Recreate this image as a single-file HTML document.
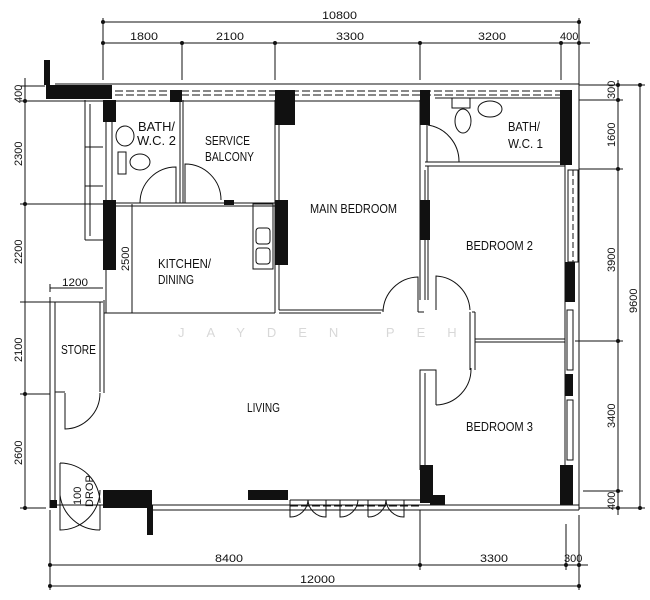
<!DOCTYPE html>
<html><head><meta charset="utf-8"><style>
html,body{margin:0;padding:0;background:#fff}
svg{display:block}
text{font-family:"Liberation Sans",sans-serif;fill:#111}
</style></head><body>
<svg width="650" height="600" viewBox="0 0 650 600" xmlns="http://www.w3.org/2000/svg">
<g stroke="#111" stroke-width="1" fill="none">
<line x1="103" y1="22" x2="579" y2="22"/>
<line x1="103" y1="43" x2="590" y2="43"/>
<line x1="103" y1="18" x2="103" y2="80"/>
<line x1="182" y1="43" x2="182" y2="80"/>
<line x1="275" y1="43" x2="275" y2="80"/>
<line x1="420" y1="43" x2="420" y2="80"/>
<line x1="561" y1="43" x2="561" y2="80"/>
<line x1="579" y1="18" x2="579" y2="84"/>
<line x1="25" y1="78" x2="25" y2="510"/>
<line x1="20" y1="86" x2="45" y2="86"/>
<line x1="20" y1="101" x2="100" y2="101"/>
<line x1="20" y1="204" x2="103" y2="204"/>
<line x1="20" y1="302" x2="103" y2="302"/>
<line x1="20" y1="394" x2="50" y2="394"/>
<line x1="20" y1="508" x2="46" y2="508"/>
<line x1="50" y1="288" x2="103" y2="288"/>
<line x1="50" y1="284" x2="50" y2="292"/>
<line x1="132" y1="204" x2="132" y2="313"/>
<line x1="618" y1="80" x2="618" y2="515"/>
<line x1="640" y1="84" x2="640" y2="508"/>
<line x1="579" y1="85" x2="645" y2="85"/>
<line x1="579" y1="100" x2="623" y2="100"/>
<line x1="579" y1="169" x2="623" y2="169"/>
<line x1="575" y1="341" x2="623" y2="341"/>
<line x1="583" y1="491" x2="623" y2="491"/>
<line x1="579" y1="508" x2="645" y2="508"/>
<line x1="50" y1="510" x2="50" y2="590"/>
<line x1="420" y1="510" x2="420" y2="570"/>
<line x1="566" y1="524" x2="566" y2="570"/>
<line x1="579" y1="515" x2="579" y2="590"/>
<line x1="50" y1="565" x2="588" y2="565"/>
<line x1="50" y1="586" x2="579" y2="586"/>
</g>
<g fill="#111">
<circle cx="103" cy="22" r="2"/><circle cx="579" cy="22" r="2"/>
<circle cx="103" cy="43" r="2"/><circle cx="182" cy="43" r="2"/><circle cx="275" cy="43" r="2"/><circle cx="420" cy="43" r="2"/><circle cx="561" cy="43" r="2"/><circle cx="579" cy="43" r="2"/>
<circle cx="25" cy="101" r="2"/><circle cx="25" cy="204" r="2"/><circle cx="25" cy="394" r="2"/><circle cx="25" cy="508" r="2"/>
<circle cx="618" cy="85" r="2"/><circle cx="618" cy="100" r="2"/><circle cx="618" cy="169" r="2"/><circle cx="618" cy="341" r="2"/><circle cx="618" cy="491" r="2"/><circle cx="618" cy="508" r="2"/><circle cx="640" cy="85" r="2"/><circle cx="640" cy="508" r="2"/>
<circle cx="50" cy="565" r="2"/><circle cx="420" cy="565" r="2"/><circle cx="566" cy="565" r="2"/><circle cx="579" cy="565" r="2"/><circle cx="50" cy="586" r="2"/><circle cx="579" cy="586" r="2"/>
</g>
<g font-size="11">
<text x="322" y="19" textLength="35" lengthAdjust="spacingAndGlyphs">10800</text>
<text x="130" y="40" textLength="28" lengthAdjust="spacingAndGlyphs">1800</text>
<text x="216" y="40" textLength="28" lengthAdjust="spacingAndGlyphs">2100</text>
<text x="336" y="40" textLength="28" lengthAdjust="spacingAndGlyphs">3300</text>
<text x="478" y="40" textLength="28" lengthAdjust="spacingAndGlyphs">3200</text>
<text x="560" y="40">400</text>
<text x="215" y="562" textLength="28" lengthAdjust="spacingAndGlyphs">8400</text>
<text x="480" y="562" textLength="28" lengthAdjust="spacingAndGlyphs">3300</text>
<text x="564" y="562">300</text>
<text x="300" y="583" textLength="35" lengthAdjust="spacingAndGlyphs">12000</text>
<text x="62" y="286" textLength="26" lengthAdjust="spacingAndGlyphs">1200</text>
<text transform="translate(22,103) rotate(-90)">400</text>
<text transform="translate(22,166) rotate(-90)">2300</text>
<text transform="translate(22,264) rotate(-90)">2200</text>
<text transform="translate(22,362) rotate(-90)">2100</text>
<text transform="translate(22,465) rotate(-90)">2600</text>
<text transform="translate(129,271) rotate(-90)">2500</text>
<text transform="translate(615,99) rotate(-90)">300</text>
<text transform="translate(615,147) rotate(-90)">1600</text>
<text transform="translate(615,272) rotate(-90)">3900</text>
<text transform="translate(615,428) rotate(-90)">3400</text>
<text transform="translate(615,510) rotate(-90)">400</text>
<text transform="translate(637,313) rotate(-90)">9600</text>
</g>
<g stroke="#111" stroke-width="1" fill="none">
<line x1="55" y1="84" x2="579" y2="84"/>
<line x1="100" y1="101" x2="280" y2="101"/>
<line x1="290" y1="101" x2="420" y2="101"/>
<line x1="435" y1="98" x2="565" y2="98"/>
<line x1="115" y1="91" x2="565" y2="91" stroke-dasharray="8,3"/>
<line x1="115" y1="95" x2="565" y2="95" stroke-dasharray="8,3"/>
<line x1="55" y1="505" x2="579" y2="505"/>
<line x1="150" y1="510" x2="579" y2="510"/>
<line x1="290" y1="500" x2="420" y2="500"/>
<line x1="440" y1="505" x2="560" y2="505" stroke-dasharray="8,3"/>
<line x1="290" y1="506" x2="420" y2="506" stroke-dasharray="8,3"/>
<line x1="50" y1="297" x2="50" y2="508"/>
<line x1="55" y1="302" x2="55" y2="505"/>
<line x1="55" y1="302" x2="100" y2="302"/>
<line x1="100" y1="302" x2="100" y2="392"/>
<line x1="104" y1="300" x2="104" y2="393"/>
<line x1="55" y1="392" x2="65" y2="392"/>
<line x1="104" y1="313" x2="275" y2="313"/>
<line x1="106" y1="120" x2="106" y2="313"/>
<line x1="112" y1="120" x2="112" y2="204"/>
<line x1="85" y1="100" x2="85" y2="240"/>
<line x1="90" y1="104" x2="90" y2="236"/>
<line x1="85" y1="240" x2="103" y2="240"/>
<line x1="85" y1="147" x2="103" y2="147"/>
<line x1="85" y1="186" x2="103" y2="186"/>
<line x1="112" y1="203" x2="275" y2="203"/>
<line x1="112" y1="206" x2="275" y2="206"/>
<line x1="180" y1="100" x2="180" y2="203"/>
<line x1="183" y1="100" x2="183" y2="203"/>
<path d="M140 203 A36 36 0 0 1 176 167 L176 203"/>
<path d="M185 203 L185 164 A36 36 0 0 1 221 200"/>
<line x1="275" y1="100" x2="275" y2="313"/>
<line x1="279" y1="100" x2="279" y2="310"/>
<line x1="279" y1="310" x2="383" y2="310"/>
<line x1="279" y1="313" x2="381" y2="313"/>
<line x1="420" y1="100" x2="420" y2="300"/>
<line x1="425" y1="170" x2="425" y2="300"/>
<path d="M418 312 L418 277 A36 36 0 0 0 383 312"/>
<path d="M436 310 L436 276 A36 36 0 0 1 470 310"/>
<line x1="418" y1="312" x2="424" y2="312"/>
<line x1="472" y1="312" x2="475" y2="312"/>
<line x1="475" y1="312" x2="475" y2="370"/>
<line x1="470" y1="312" x2="470" y2="370"/>
<line x1="475" y1="339" x2="565" y2="339"/>
<line x1="475" y1="342" x2="565" y2="342"/>
<path d="M436 405 L436 370 L420 370 L420 470"/>
<line x1="425" y1="373" x2="425" y2="470"/>
<path d="M436 405 A36 36 0 0 0 471 368"/>
<line x1="425" y1="162" x2="565" y2="162"/>
<line x1="425" y1="166" x2="565" y2="166"/>
<line x1="428" y1="166" x2="428" y2="300"/>
<path d="M428 125 A37 37 0 0 1 459 162"/>
<line x1="427" y1="125" x2="427" y2="162"/>
<line x1="579" y1="84" x2="579" y2="510"/>
<line x1="565" y1="165" x2="565" y2="505"/>
<rect x="568" y="170" width="10" height="92"/>
<line x1="573" y1="170" x2="573" y2="262" stroke-dasharray="6,3"/>
<rect x="567" y="310" width="6" height="60"/>
<rect x="567" y="400" width="6" height="60"/>
<path d="M65 393 L65 429 A36 36 0 0 0 100 393"/>
<path d="M60 463 A40 40 0 0 1 100 503 M60 463 L60 530 A40 40 0 0 0 100 490 M100 530 A40 40 0 0 1 60 495"/>
<line x1="100" y1="505" x2="100" y2="530"/>
<path d="M290 500 L290 517 A18 18 0 0 0 308 500 M308 500 A18 18 0 0 0 326 517 L326 500 M340 500 L340 517 A18 18 0 0 0 358 500 M368 500 L368 517 M368 517 A18 18 0 0 0 386 500 M386 500 A18 18 0 0 0 404 517 L404 500"/>
<rect x="253" y="204" width="20" height="65"/>
<rect x="256" y="228" width="14" height="16" rx="3"/>
<rect x="256" y="248" width="14" height="16" rx="3"/>
<ellipse cx="125" cy="136" rx="9" ry="10"/>
<ellipse cx="140" cy="162" rx="10" ry="8"/>
<rect x="118" y="152" width="8" height="22"/>
<rect x="452" y="98" width="18" height="10"/>
<ellipse cx="463" cy="121" rx="8" ry="12"/>
<ellipse cx="490" cy="109" rx="12" ry="8"/>
</g>
<g fill="#111">
<rect x="44" y="60" width="6" height="25"/>
<rect x="46" y="85" width="66" height="14"/>
<rect x="103" y="100" width="13" height="22"/>
<rect x="170" y="90" width="12" height="12"/>
<rect x="275" y="90" width="20" height="35"/>
<rect x="103" y="200" width="13" height="70"/>
<rect x="275" y="200" width="13" height="65"/>
<rect x="224" y="200" width="10" height="5"/>
<rect x="420" y="90" width="10" height="35"/>
<rect x="420" y="200" width="10" height="40"/>
<rect x="560" y="90" width="12" height="75"/>
<rect x="565" y="262" width="10" height="40"/>
<rect x="565" y="374" width="8" height="22"/>
<rect x="50" y="500" width="7" height="8"/>
<rect x="103" y="490" width="49" height="18"/>
<rect x="147" y="505" width="6" height="30"/>
<rect x="248" y="490" width="40" height="10"/>
<rect x="420" y="465" width="13" height="38"/>
<rect x="430" y="495" width="15" height="10"/>
<rect x="560" y="465" width="13" height="40"/>
</g>
<g font-size="13">
<text x="138" y="131" textLength="37" lengthAdjust="spacingAndGlyphs">BATH/</text>
<text x="137" y="145" textLength="39" lengthAdjust="spacingAndGlyphs">W.C. 2</text>
<text x="205" y="145" textLength="45" lengthAdjust="spacingAndGlyphs">SERVICE</text>
<text x="205" y="161" textLength="49" lengthAdjust="spacingAndGlyphs">BALCONY</text>
<text x="310" y="213" textLength="87" lengthAdjust="spacingAndGlyphs">MAIN BEDROOM</text>
<text x="508" y="131" textLength="32" lengthAdjust="spacingAndGlyphs">BATH/</text>
<text x="508" y="148" textLength="35" lengthAdjust="spacingAndGlyphs">W.C. 1</text>
<text x="466" y="250" textLength="67" lengthAdjust="spacingAndGlyphs">BEDROOM 2</text>
<text x="158" y="268" textLength="53" lengthAdjust="spacingAndGlyphs">KITCHEN/</text>
<text x="158" y="284" textLength="36" lengthAdjust="spacingAndGlyphs">DINING</text>
<text x="61" y="354" textLength="35" lengthAdjust="spacingAndGlyphs">STORE</text>
<text x="247" y="412" textLength="33" lengthAdjust="spacingAndGlyphs">LIVING</text>
<text x="466" y="431" textLength="67" lengthAdjust="spacingAndGlyphs">BEDROOM 3</text>
<text transform="translate(81,505) rotate(-90)" font-size="11">100</text>
<text transform="translate(93,507) rotate(-90)" font-size="11">DROP</text>
</g>
<text x="178" y="337" font-size="13" style="fill:#d8d8d8;letter-spacing:22px">JAYDEN PEH</text>
</svg>
</body></html>
